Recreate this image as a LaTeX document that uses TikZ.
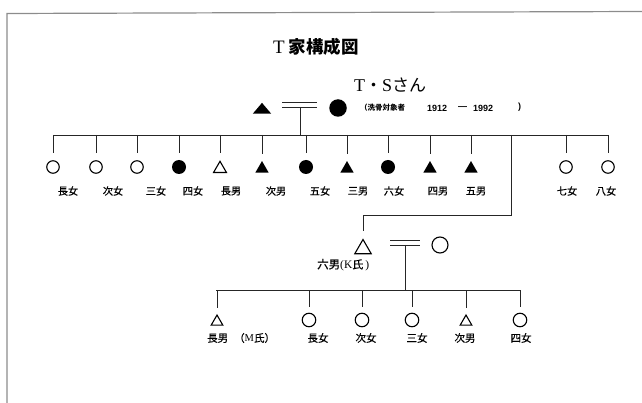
\documentclass[tikz,border=0pt]{standalone}
\usepackage{fontspec}
\setmainfont{Liberation Serif}
\newfontfamily\jp{Noto Sans CJK JP}
\newfontfamily\jpm[FakeBold=0.5]{Noto Sans CJK JP}
\newfontfamily\lsans{Liberation Sans}
\usetikzlibrary{shapes.geometric}
\tikzset{
  ln/.style={line width=0.8pt, draw=black!85},
  frame/.style={line width=1.2pt, draw=black!45},
  osym/.style={circle, draw=black, line width=1.1pt, minimum size=12.5pt, inner sep=0pt},
  fsym/.style={circle, fill=black, minimum size=14pt, inner sep=0pt},
  otri/.style={regular polygon, regular polygon sides=3, draw=black, line width=1.1pt, minimum size=15pt, inner sep=0pt},
  ftri/.style={regular polygon, regular polygon sides=3, fill=black, minimum size=15.5pt, inner sep=0pt},
  lbl/.style={font=\jpm\fontsize{10.2}{12}\selectfont, inner sep=0pt},
  lblb/.style={font=\jpm\fontsize{10.5}{12}\selectfont, inner sep=0pt},
}
\begin{document}
\begin{tikzpicture}[x=1pt,y=-1pt]
\useasboundingbox (0,0) rectangle (642,403);
% frame
\coordinate (fa) at (7,13.5);
\coordinate (fb) at (642,11.5);
\coordinate (fc) at (7,403);
\draw[frame] (fc) -- (fa) -- (fb);
% title
\node[anchor=west, inner sep=0pt] (title) at (273,47) {{\fontsize{19}{20}\selectfont T}\hspace{4pt}{\jp\bfseries\fontsize{17.5}{20}\selectfont 家構成図}};
\node[anchor=west, inner sep=0pt] (ts) at (354,85) {\fontsize{18}{20}\selectfont T{\jp\fontsize{17}{20}\selectfont ・}S{\jp\fontsize{17}{20}\selectfont さん}};
% top couple
\begin{scope}[shift={(262,110)}, yscale=0.68]
\node[ftri, minimum size=21pt, transform shape] (father) at (0,0) {};
\end{scope}
\node[fsym, minimum size=17.5pt] (mother) at (338,108) {};
\coordinate (m1a) at (282,102); \coordinate (m1b) at (317,102);
\coordinate (m1c) at (282,107); \coordinate (m1d) at (317,107);
\draw[ln] (m1a) -- (m1b);
\draw[ln] (m1c) -- (m1d);
\coordinate (m1v) at (300,107);
\coordinate (bar1) at (300,135);
\draw[ln] (m1v) -- (bar1);
% note
\node[anchor=west, inner sep=0pt, font=\jp\bfseries\fontsize{7.5}{9}\selectfont] (note1) at (360,108) {（洗骨対象者};
\node[anchor=west, inner sep=0pt, font=\lsans\bfseries\fontsize{9}{10}\selectfont] (note2) at (427,108) {1912};
\node[anchor=west, inner sep=0pt, font=\lsans\bfseries\fontsize{9}{10}\selectfont] (note3) at (458,108) {―};
\node[anchor=west, inner sep=0pt, font=\lsans\bfseries\fontsize{9}{10}\selectfont] (note4) at (473,108) {1992};
\node[anchor=west, inner sep=0pt, font=\lsans\bfseries\fontsize{9}{10}\selectfont] (note5) at (518,107) {)};
% sibling bar
\coordinate (sbl) at (53,135);
\coordinate (sbr) at (609,135);
\draw[ln] (sbl) -- (sbr);
\foreach \x/\lx/\t/\l/\dy [count=\i] in {53/68/osym/長女/0, 96/113/osym/次女/0, 137/156/osym/三女/0, 179/193/fsym/四女/0, 220/231/otri/長男/1.8, 262/276/ftri/次男/1.8, 306/320/fsym/五女/0, 347/358/ftri/三男/1.8, 388/394/fsym/六女/0, 430/438/ftri/四男/1.8, 471/476/ftri/五男/1.8, 566/567/osym/七女/0, 608/606/osym/八女/0}{
  \coordinate (t\i) at (\x,135);
  \node[\t] (k\i) at (\x,167+\dy) {};
  \draw[ln, shorten >=7pt] (t\i) -- (k\i.north);
  \node[lbl] (l\i) at (\lx,191) {\l};
}
% connector to sixth son
\coordinate (j1) at (511,135);
\coordinate (j2) at (511,215);
\node[otri, minimum size=19pt] (son) at (363,249) {};
\draw[ln, shorten >=7.5pt] (j1) -- (j2) -| (son.north);
\node[anchor=west, inner sep=0pt] (sonl) at (317,265) {{\jpm\fontsize{11.5}{13}\selectfont 六男}{\fontsize{11.5}{13}\selectfont (K}{\jpm\fontsize{11}{13}\selectfont 氏}{\fontsize{11.5}{13}\selectfont\,)}};
\node[osym, minimum size=16pt] (wife) at (440,245) {};
\coordinate (m2a) at (390,240); \coordinate (m2b) at (420,240);
\coordinate (m2c) at (390,245); \coordinate (m2d) at (420,245);
\draw[ln] (m2a) -- (m2b);
\draw[ln] (m2c) -- (m2d);
\coordinate (m2v) at (405,245);
\coordinate (bar2) at (405,290);
\draw[ln] (m2v) -- (bar2);
% children bar
\coordinate (cbl) at (216,290);
\coordinate (cbr) at (520,290);
\draw[ln] (cbl) -- (cbr);
\foreach \x/\lx/\t/\l/\dy [count=\i] in {217/0/otri/長男/1.8, 309/318/osym/長女/0, 362/366/osym/次女/0, 412/417/osym/三女/0, 466/465/otri/次男/1.8, 520/521/osym/四女/0}{
  \coordinate (u\i) at (\x,290);
  \node[\t, minimum size=13.5pt] (g\i) at (\x,320+\dy) {};
  \draw[ln, shorten >=6pt] (u\i) -- (g\i.north);
  \ifnum\i>1
    \node[lblb] (h\i) at (\lx,338) {\l};
  \fi
}
\node[anchor=west, inner sep=0pt] (h1) at (207,338) {{\jpm\fontsize{10.5}{12}\selectfont 長男\hspace{6pt}（}{\fontsize{10.5}{12}\selectfont M}{\jpm\fontsize{10.5}{12}\selectfont 氏）}};
\end{tikzpicture}
\end{document}
